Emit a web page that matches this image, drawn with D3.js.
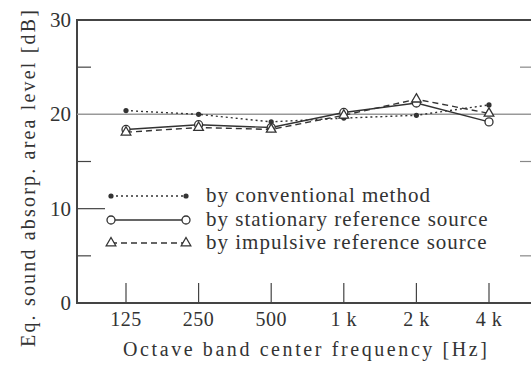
<!DOCTYPE html>
<html>
<head>
<meta charset="utf-8">
<script src="https://cdn.jsdelivr.net/npm/d3@7"></script>
<style>
  body { margin: 0; background: #fff; }
  svg { display: block; }
  text { font-family: "Liberation Serif", "Times New Roman", serif; fill: #333; }
</style>
</head>
<body>
<div id="chart"></div>
<script>
var frequencies = [125, 250, 500, 1000, 2000, 4000];
var freqLabels = ["125", "250", "500", "1 k", "2 k", "4 k"];
var conventional = [20.4, 20.0, 19.2, 19.6, 19.9, 21.0];
var stationary = [18.4, 18.9, 18.6, 20.2, 21.2, 19.2];
var impulsive = [18.1, 18.6, 18.4, 19.9, 21.6, 20.1];
var yTicks = [0, 10, 20, 30];
var yMinor = [5, 15, 25];
var legendLabels = ["by conventional method", "by stationary reference source", "by impulsive reference source"];

var width = 531, height = 365;
var plotLeft = 77, plotRight = 534, plotTop = 20, plotBottom = 303;
var ink = "#444";

var svg = d3.select("#chart").append("svg")
    .attr("width", width)
    .attr("height", height);

var x = d3.scaleLog().base(2).domain([125, 4000]).range([126, 489]);
var y = d3.scaleLinear().domain([0, 30]).range([plotBottom, plotTop]);

// frame
svg.append("line").attr("x1", plotLeft).attr("x2", plotLeft).attr("y1", plotTop - 1).attr("y2", plotBottom + 1)
    .attr("stroke", ink).attr("stroke-width", 2);
svg.append("line").attr("x1", plotLeft).attr("x2", plotRight).attr("y1", plotBottom).attr("y2", plotBottom)
    .attr("stroke", ink).attr("stroke-width", 2);
svg.append("line").attr("x1", plotLeft).attr("x2", plotRight).attr("y1", plotTop).attr("y2", plotTop)
    .attr("stroke", ink).attr("stroke-width", 2);

// grid line at 20
svg.append("line").attr("x1", plotLeft).attr("x2", plotRight).attr("y1", y(20)).attr("y2", y(20))
    .attr("stroke", "#999").attr("stroke-width", 1.5);

// y ticks
svg.selectAll(".ymaj").data([10]).enter().append("line")
    .attr("x1", plotLeft).attr("x2", plotLeft + 28)
    .attr("y1", function (d) { return y(d); }).attr("y2", function (d) { return y(d); })
    .attr("stroke", ink).attr("stroke-width", 1.2);
svg.selectAll(".ymin").data(yMinor).enter().append("line")
    .attr("x1", plotLeft).attr("x2", plotLeft + 14)
    .attr("y1", function (d) { return y(d); }).attr("y2", function (d) { return y(d); })
    .attr("stroke", ink).attr("stroke-width", 1.2);
svg.selectAll(".ymin-r").data(yMinor).enter().append("line")
    .attr("x1", plotRight).attr("x2", plotRight - 14)
    .attr("y1", function (d) { return y(d); }).attr("y2", function (d) { return y(d); })
    .attr("stroke", "#888").attr("stroke-width", 1.2);

svg.selectAll(".ylab").data(yTicks).enter().append("text")
    .attr("x", 71).attr("y", function (d) { return y(d) + 7; })
    .attr("text-anchor", "end")
    .attr("font-size", 21)
    .text(function (d) { return d; });

// x ticks
svg.selectAll(".xt").data(frequencies).enter().append("line")
    .attr("x1", function (d) { return x(d); }).attr("x2", function (d) { return x(d); })
    .attr("y1", plotBottom).attr("y2", plotBottom - 20)
    .attr("stroke", ink).attr("stroke-width", 1.2);

svg.selectAll(".xlab").data(frequencies).enter().append("text")
    .attr("x", function (d) { return x(d); }).attr("y", 326)
    .attr("text-anchor", "middle")
    .attr("font-size", 20)
    .attr("letter-spacing", 0.5)
    .text(function (d, i) { return freqLabels[i]; });

svg.append("text")
    .attr("x", 123).attr("y", 356)
    .attr("font-size", 20)
    .attr("textLength", 364)
    .attr("lengthAdjust", "spacing")
    .text("Octave band center frequency  [Hz]");

svg.append("text")
    .attr("transform", "translate(35,347) rotate(-90)")
    .attr("font-size", 20)
    .attr("textLength", 337)
    .attr("lengthAdjust", "spacing")
    .text("Eq. sound absorp. area level [dB]");

// series
var series = [
    { values: conventional, dash: "2,3", marker: "dot" },
    { values: stationary, dash: null, marker: "circle" },
    { values: impulsive, dash: "6,4", marker: "triangle" }
];

var line = d3.line()
    .x(function (d, i) { return x(frequencies[i]); })
    .y(function (d) { return y(d); });

function drawMarker(g, cx, cy, type) {
    if (type == "dot") {
        g.append("circle").attr("cx", cx).attr("cy", cy).attr("r", 2.6)
            .attr("fill", "#333");
    } else if (type == "circle") {
        g.append("circle").attr("cx", cx).attr("cy", cy).attr("r", 4)
            .attr("fill", "#fff").attr("stroke", "#333").attr("stroke-width", 1.3);
    } else {
        g.append("path")
            .attr("d", d3.symbol().type(d3.symbolTriangle).size(40)())
            .attr("transform", "translate(" + cx + "," + cy + ")")
            .attr("fill", "#fff").attr("stroke", "#333").attr("stroke-width", 1.3);
    }
}

series.forEach(function (s) {
    var g = svg.append("g");
    g.append("path")
        .attr("d", line(s.values))
        .attr("fill", "none")
        .attr("stroke", "#333")
        .attr("stroke-width", 1.4)
        .attr("stroke-dasharray", s.dash);
    s.values.forEach(function (v, i) {
        drawMarker(g, x(frequencies[i]), y(v), s.marker);
    });
});

// legend
var legendY = [196, 220, 243];
series.forEach(function (s, i) {
    var g = svg.append("g");
    g.append("line").attr("x1", 111).attr("x2", 186)
        .attr("y1", legendY[i]).attr("y2", legendY[i])
        .attr("stroke", "#333").attr("stroke-width", 1.4)
        .attr("stroke-dasharray", s.dash);
    drawMarker(g, 111, legendY[i], s.marker);
    drawMarker(g, 186, legendY[i], s.marker);
    g.append("text")
        .attr("x", 206).attr("y", legendY[i] + 6)
        .attr("font-size", 21)
        .attr("letter-spacing", 1)
        .text(legendLabels[i]);
});
</script>
</body>
</html>
